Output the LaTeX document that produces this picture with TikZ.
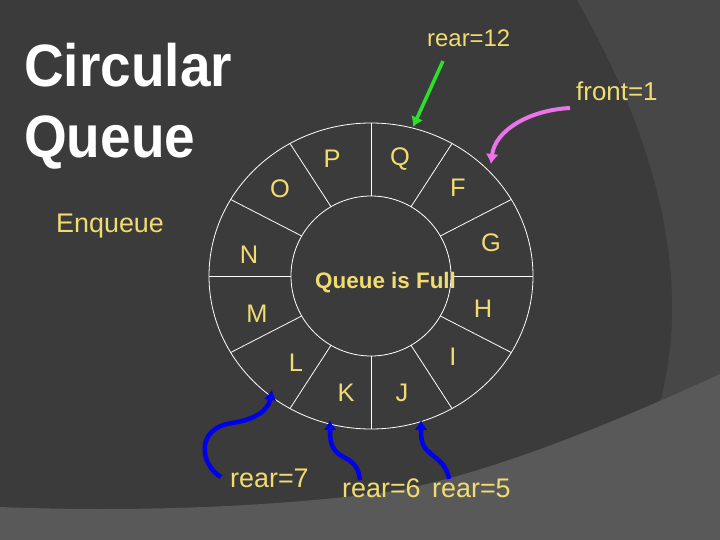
\documentclass[tikz,border=0pt]{standalone}
\usepackage{fontspec}
\setmainfont{Liberation Sans}
\usepackage{xcolor}
\usepackage{graphicx}
\usetikzlibrary{arrows.meta}

\definecolor{slidebg}{RGB}{59,59,59}
\definecolor{slideband}{RGB}{71,71,71}
\definecolor{slidefloor}{RGB}{89,89,89}
\definecolor{labelyellow}{RGB}{240,220,112}
\definecolor{ptrgreen}{RGB}{40,225,40}
\definecolor{ptrpink}{RGB}{235,115,235}
\definecolor{ptrblue}{RGB}{0,0,235}
\newcommand{\pxsize}[1]{\fontsize{#1}{#1}\selectfont}

\begin{document}
\begin{tikzpicture}[
  x=1bp, y=-1bp,
  ringline/.style={draw=white,line width=0.8bp},
  cell/.style={text=labelyellow,font=\pxsize{25.5},inner sep=0pt},
  ptrlabel/.style={text=labelyellow,font=\pxsize{27},anchor=base west,inner sep=0pt},
  ptrline/.style={line width=#1,-{Latex[length=10pt,width=13pt]}},
  ptrline/.default=4.5bp
]
 % slide background
 \useasboundingbox (0,0) rectangle (720,540);
 \fill[slidebg] (0,0) rectangle (720,540);
 \fill[slideband] (577,0) .. controls (640,110) and (698,260) .. (660,402)
   -- (720,374) -- (720,0) -- cycle;
 \fill[slidefloor] (0,507) .. controls (150,513) and (300,505) .. (400,490)
   .. controls (500,470) and (620,420) .. (720,374) -- (720,540) -- (0,540) -- cycle;

 % title
 \node[anchor=base west,text=white,font=\bfseries\pxsize{60},inner sep=0pt]
   (title1) at (24,87) {\scalebox{0.92}[1]{Circular}};
 \node[anchor=base west,text=white,font=\bfseries\pxsize{60},inner sep=0pt]
   (title2) at (24,158) {\scalebox{0.92}[1]{Queue}};
 \node[ptrlabel] (enq) at (56,233) {Enqueue};

 % the ring of 12 cells
 \coordinate (hub) at (371,276);
 \draw[ringline] (hub) ellipse [x radius=162,y radius=153];
 \draw[ringline] (hub) circle [radius=80];
 \foreach \a in {0,30,...,330}
   \draw[ringline] ({371+80*cos(\a)},{276+80*sin(\a)}) --
     ({371+162*cos(\a)},{276+153*sin(\a)});
 \node[text=labelyellow,font=\bfseries\pxsize{22.5},anchor=base west,inner sep=0pt]
   (full) at (315,288) {Queue is Full};

 \node[cell] (cP) at (332,159) {P};
 \node[cell] (cQ) at (400,159) {Q};
 \node[cell] (cF) at (458,188) {F};
 \node[cell] (cG) at (491,243) {G};
 \node[cell] (cH) at (483,309) {H};
 \node[cell] (cI) at (453,357) {I};
 \node[cell] (cJ) at (402,393) {J};
 \node[cell] (cK) at (346,393) {K};
 \node[cell] (cL) at (296,363) {L};
 \node[cell] (cM) at (257,314) {M};
 \node[cell] (cN) at (249,255) {N};
 \node[cell] (cO) at (280,189) {O};

 % pointers
 \node[ptrlabel,font=\pxsize{24}] (rear12) at (427,47) {rear=12};
 \node[ptrlabel,font=\pxsize{26}] (front1) at (576,101) {front=1};
 \node[ptrlabel] (rear7) at (230,487) {rear=7};
 \node[ptrlabel] (rear6) at (342,497) {rear=6};
 \node[ptrlabel] (rear5) at (432,497) {rear=5};

 \coordinate (g0) at (443,61);  \coordinate (g1) at (413,127);
 \coordinate (p0) at (570,108); \coordinate (p1) at (491,164);
 \coordinate (b70) at (221,477); \coordinate (b71) at (272,390);
 \coordinate (b60) at (360,480); \coordinate (b61) at (330,420);
 \coordinate (b50) at (449,479); \coordinate (b51) at (421,420);

 \draw[ptrline=3.5bp,ptrgreen] (g0) -- (g1);
 \draw[ptrline=4bp,ptrpink] (p0) .. controls (530,110) and (495,130) .. (p1);
 \draw[ptrline,ptrblue] (b70) .. controls (200,465) and (195,428) .. (232,423)
   .. controls (252,420) and (268,412) .. (b71);
 \draw[ptrline,ptrblue] (b60) .. controls (358,462) and (348,460) .. (340,455)
   .. controls (330,448) and (330,438) .. (b61);
 \draw[ptrline,ptrblue] (b50) .. controls (447,465) and (438,460) .. (430,453)
   .. controls (421,446) and (421,438) .. (b51);
\end{tikzpicture}
\end{document}
